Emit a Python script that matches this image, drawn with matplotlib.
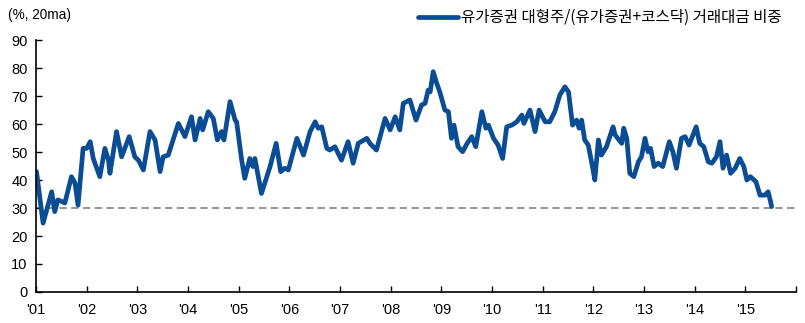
import matplotlib
matplotlib.use("Agg")
import matplotlib.pyplot as plt
import numpy as np

# 20-day moving average share of large-cap KOSPI trading value (%)
obs_year = [
    2001.01, 2001.14, 2001.31, 2001.37, 2001.43, 2001.51, 2001.57, 2001.70, 2001.77, 2001.83,
    2001.93, 2002.00, 2002.07, 2002.13, 2002.26, 2002.36, 2002.43, 2002.46, 2002.59, 2002.69,
    2002.84, 2002.95, 2003.02, 2003.12, 2003.25, 2003.35, 2003.45, 2003.51, 2003.61, 2003.81,
    2003.94, 2004.07, 2004.14, 2004.24, 2004.29, 2004.40, 2004.50, 2004.58, 2004.66, 2004.71,
    2004.83, 2004.93, 2004.96, 2005.06, 2005.12, 2005.22, 2005.28, 2005.32, 2005.45, 2005.62,
    2005.74, 2005.83, 2005.91, 2005.98, 2006.15, 2006.28, 2006.41, 2006.51, 2006.57, 2006.64,
    2006.74, 2006.80, 2006.90, 2007.03, 2007.16, 2007.26, 2007.36, 2007.53, 2007.59, 2007.72,
    2007.89, 2007.99, 2008.09, 2008.18, 2008.25, 2008.38, 2008.50, 2008.61, 2008.68, 2008.74,
    2008.78, 2008.84, 2008.91, 2008.97, 2009.07, 2009.14, 2009.20, 2009.25, 2009.33, 2009.42,
    2009.51, 2009.60, 2009.68, 2009.80, 2009.88, 2009.93, 2010.03, 2010.12, 2010.21, 2010.29,
    2010.39, 2010.49, 2010.59, 2010.63, 2010.75, 2010.85, 2010.93, 2011.05, 2011.14, 2011.24,
    2011.34, 2011.44, 2011.51, 2011.59, 2011.67, 2011.72, 2011.77, 2011.83, 2011.90, 2011.97,
    2012.03, 2012.10, 2012.16, 2012.26, 2012.39, 2012.43, 2012.56, 2012.60, 2012.66, 2012.72,
    2012.80, 2012.89, 2012.95, 2013.02, 2013.08, 2013.13, 2013.20, 2013.28, 2013.37, 2013.50,
    2013.57, 2013.64, 2013.74, 2013.81, 2013.89, 2014.03, 2014.10, 2014.18, 2014.27, 2014.34,
    2014.43, 2014.50, 2014.56, 2014.63, 2014.71, 2014.80, 2014.89, 2014.97, 2015.03, 2015.10,
    2015.21, 2015.29, 2015.39, 2015.45, 2015.49, 2015.52,
]
large_cap_share = [
    43.0, 24.6, 35.8, 28.7, 32.9, 32.3, 31.8, 41.2, 38.9, 31.0,
    51.3, 51.3, 53.7, 47.7, 41.2, 51.3, 47.1, 42.4, 57.3, 48.3,
    55.5, 48.3, 47.1, 43.6, 57.3, 54.3, 43.0, 48.3, 48.9, 60.2,
    55.5, 62.6, 54.3, 62.0, 57.9, 64.4, 62.0, 54.3, 57.3, 54.3,
    68.0, 61.4, 60.8, 47.1, 40.6, 47.7, 44.8, 47.7, 35.2, 44.8,
    53.1, 43.0, 44.2, 43.6, 54.9, 48.9, 57.3, 60.8, 58.5, 59.0,
    51.3, 50.7, 51.9, 47.1, 53.7, 46.0, 53.1, 54.9, 53.1, 50.7,
    62.0, 57.9, 62.6, 57.9, 67.4, 68.6, 61.4, 66.8, 67.4, 72.1,
    71.5, 78.7, 74.5, 71.5, 65.0, 64.4, 54.9, 59.6, 51.9, 50.1,
    53.1, 55.5, 51.9, 64.4, 58.5, 59.6, 54.9, 52.5, 47.7, 59.0,
    59.6, 60.8, 63.2, 60.2, 65.0, 57.3, 65.0, 60.8, 60.8, 64.4,
    70.4, 73.3, 71.5, 59.6, 61.4, 58.5, 61.4, 54.3, 52.5, 46.0,
    40.0, 54.3, 48.9, 51.9, 59.0, 56.1, 53.1, 58.5, 54.9, 42.4,
    41.2, 46.5, 48.3, 54.9, 50.1, 51.3, 44.8, 46.0, 44.8, 53.7,
    50.1, 44.2, 54.9, 55.5, 52.5, 59.0, 53.1, 51.9, 46.5, 46.0,
    48.3, 53.7, 44.2, 48.9, 42.4, 44.2, 47.7, 44.8, 40.0, 41.2,
    39.4, 34.6, 34.6, 35.8, 32.9, 30.5,
]
reference_level = 30
year_ticks = list(range(2001, 2017))
year_labels = ["'%02d" % (y % 100) for y in range(2001, 2016)] + [""]
y_ticks = list(range(0, 91, 10))

legend_label = "유가증권 대형주/(유가증권+코스닥) 거래대금 비중"
unit_label = "(%, 20ma)"

plt.rcParams["font.family"] = ["Liberation Sans", "DejaVu Sans"]
plt.rcParams["font.size"] = 10.5

fig = plt.figure(figsize=(8.05, 3.23), dpi=100)
ax = fig.add_axes([0.0447, 0.096, 0.9441, 0.780])

line_color = "#0B4D94"
ax.plot(obs_year, large_cap_share, color=line_color, lw=3.4,
        solid_joinstyle="round", solid_capstyle="round", label=legend_label)
ax.axhline(reference_level, color="#8C8C8C", lw=1.3, ls=(0, (4, 2.5)), zorder=1)

ax.set_xlim(2001, 2016)
ax.set_ylim(0, 90)
ax.set_xticks(year_ticks)
ax.set_xticklabels(year_labels)
ax.set_yticks(y_ticks)

for side in ("top", "right"):
    ax.spines[side].set_visible(False)
for side in ("left", "bottom"):
    ax.spines[side].set_linewidth(1.2)
    ax.spines[side].set_color("black")

ax.tick_params(axis="both", direction="in", length=4, width=1.0, colors="black",
               labelsize=10.5)
ax.tick_params(axis="x", pad=8)
ax.tick_params(axis="y", pad=6)

fig.text(0.010, 0.955, unit_label, fontsize=9.8, va="center", ha="left")

leg = ax.legend(loc="center right", bbox_to_anchor=(0.979, 0.945),
                bbox_transform=fig.transFigure, frameon=False,
                handlelength=2.6, handletextpad=0.2, borderaxespad=0,
                prop={"family": ["Noto Sans CJK KR", "DejaVu Sans"], "size": 11.2})
for h in leg.get_lines():
    h.set_linewidth(3.4)

fig.savefig("out.png", dpi=100)
